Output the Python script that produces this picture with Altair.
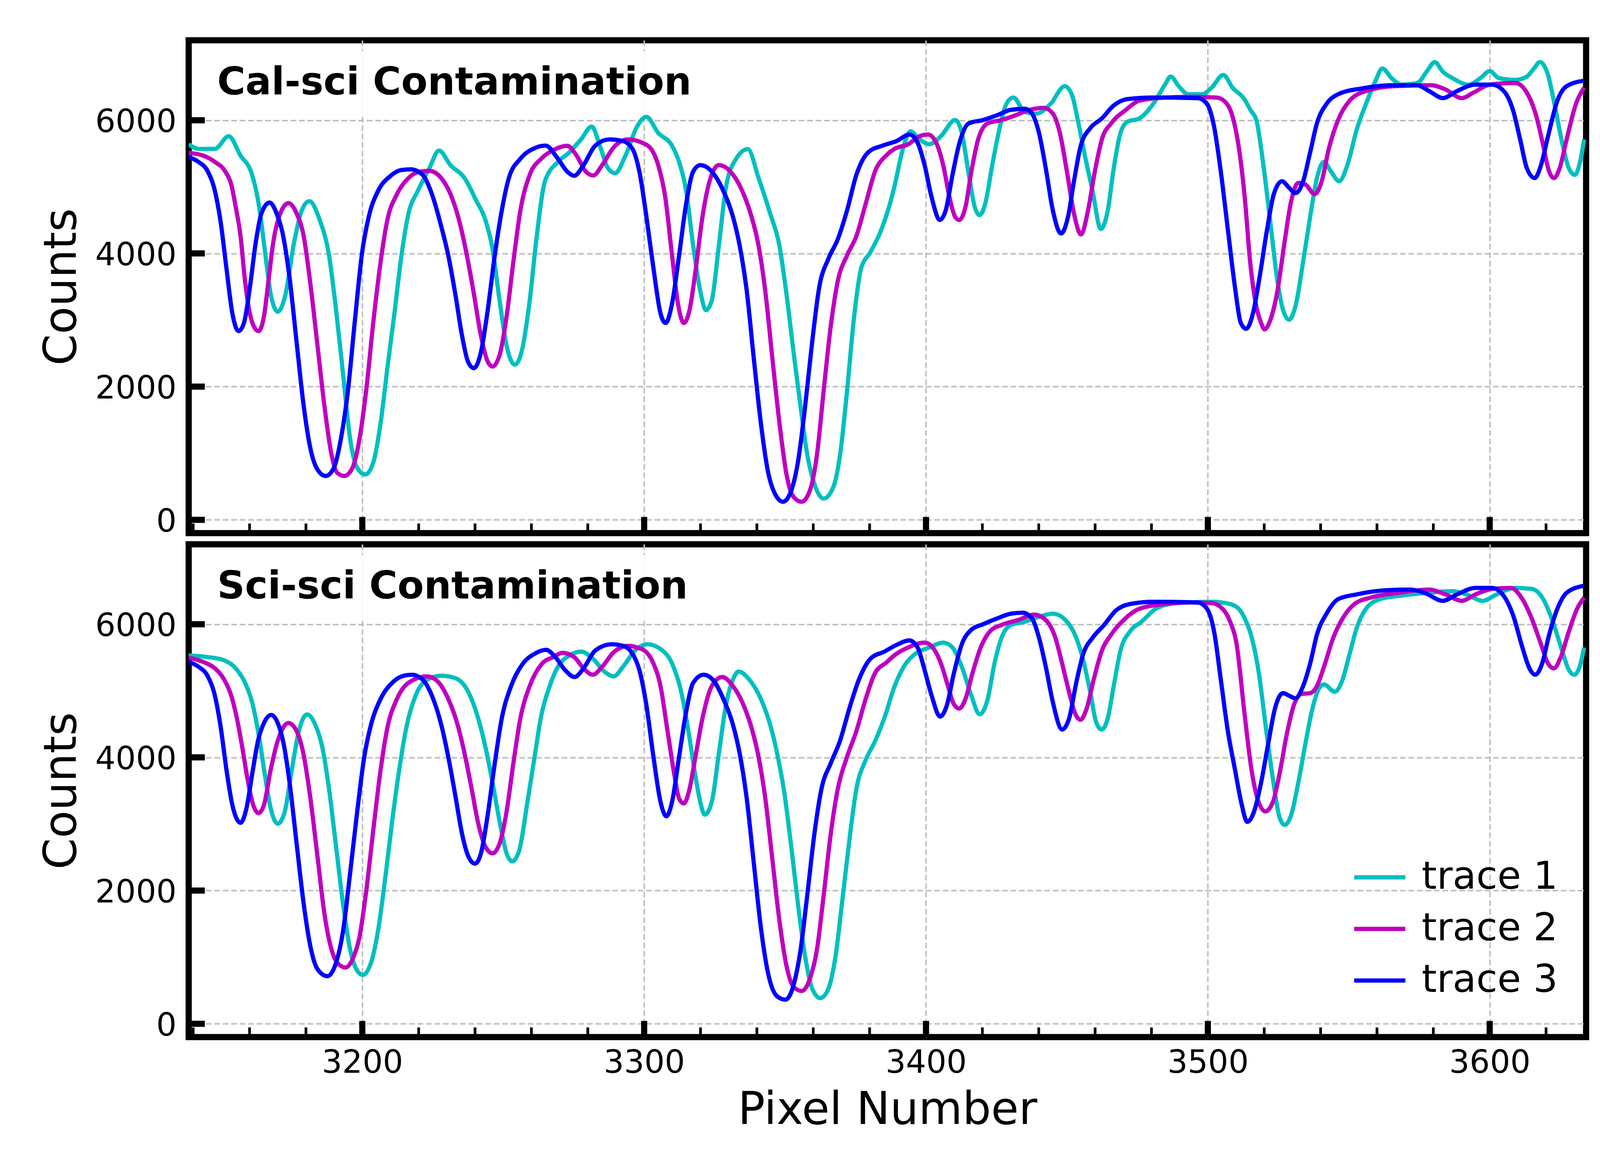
import altair as alt
import pandas as pd

# ---------------- data ----------------
TOP_T1_X = [3138.4,3141.9,3147.7,3152.6,3156.8,3160.9,3163.4,3165.5,3167.5,3170.0,3172.5,3175.8,3178.3,3181.2,3184.9,3188.2,3190.7,3193.2,3195.7,3198.2,3201.1,3204.0,3206.5,3208.9,3211.4,3213.9,3216.4,3219.7,3223.8,3227.2,3231.3,3236.3,3240.4,3243.7,3246.2,3248.7,3251.2,3254.1,3256.5,3259.4,3261.9,3264.8,3269.4,3273.5,3277.6,3281.4,3284.3,3287.2,3289.7,3293.4,3297.5,3300.8,3305.0,3309.9,3312.4,3314.9,3317.4,3319.9,3321.9,3324.0,3326.5,3329.0,3332.3,3336.8,3340.6,3344.7,3348.0,3350.5,3353.0,3355.5,3357.9,3360.4,3363.7,3367.1,3369.5,3372.0,3374.5,3377.0,3380.3,3383.6,3386.9,3388.7,3392.1,3394.5,3397.8,3401.2,3405.3,3410.3,3412.7,3415.2,3417.3,3419.0,3421.0,3423.5,3426.0,3428.5,3431.0,3435.1,3439.2,3444.2,3449.2,3451.7,3454.1,3456.6,3459.1,3462.0,3464.5,3466.6,3469.0,3471.5,3475.7,3480.6,3484.8,3486.8,3489.7,3493.0,3498.0,3501.3,3505.5,3508.8,3512.9,3515.2,3517.2,3519.7,3522.2,3524.7,3526.7,3528.8,3531.3,3533.8,3536.3,3538.7,3541.2,3543.7,3546.6,3549.5,3552.8,3556.1,3559.4,3561.9,3565.2,3568.5,3574.3,3577.6,3580.5,3583.4,3586.8,3592.5,3596.7,3600.0,3603.3,3609.1,3613.2,3615.7,3617.8,3620.7,3623.2,3625.7,3628.1,3630.2,3632.3,3633.5]
TOP_T1_Y = [5640,5570,5570,5760,5470,5180,4700,4020,3390,3125,3340,4165,4620,4785,4500,3970,3150,2180,1210,780,680,875,1455,2280,3100,3970,4600,4940,5280,5545,5325,5130,4795,4500,4070,3295,2615,2330,2520,3295,4260,5084,5374,5519,5712,5906,5616,5277,5205,5471,5906,6051,5809,5616,5374,4939,4116,3439,3149,3294,4116,4987,5398,5567,5132,4600,4116,3390,2520,1698,972,537,319,489,972,1940,3052,3778,4020,4300,4700,4987,5616,5833,5712,5640,5761,6003,5809,5180,4697,4576,4745,5326,5858,6245,6341,6124,6100,6245,6511,6390,5954,5422,4939,4368,4648,5277,5809,5978,6027,6245,6535,6656,6511,6390,6390,6487,6680,6487,6320,6148,6003,5326,4455,3584,3149,3004,3246,3874,4552,5132,5374,5229,5084,5326,5858,6245,6583,6777,6632,6535,6559,6728,6873,6728,6632,6535,6632,6738,6632,6607,6656,6777,6873,6680,6196,5664,5277,5180,5422,5712]

TOP_T2_X = [3138.4,3143.5,3147.7,3151.4,3153.5,3155.1,3156.8,3158.4,3160.1,3161.8,3163.2,3165.1,3166.7,3168.4,3170.9,3173.8,3176.7,3179.2,3181.6,3184.1,3186.6,3189.1,3191.1,3193.6,3196.5,3199.0,3201.5,3204.0,3206.5,3208.9,3212.3,3216.4,3220.5,3223.8,3228.0,3231.3,3234.6,3237.1,3239.6,3242.1,3244.5,3246.2,3248.7,3251.2,3253.6,3256.1,3259.4,3263.5,3268.5,3272.7,3276.0,3279.3,3282.0,3285.1,3289.2,3294.2,3299.2,3302.5,3305.0,3307.5,3309.9,3312.0,3314.1,3316.1,3318.2,3320.7,3323.2,3326.5,3330.6,3334.8,3338.1,3340.6,3343.1,3345.5,3348.0,3350.5,3353.0,3355.9,3358.8,3361.3,3363.7,3366.2,3368.7,3372.0,3375.3,3378.6,3381.9,3386.1,3388.7,3393.7,3397.8,3400.7,3403.6,3406.1,3408.6,3410.3,3411.8,3414.0,3416.1,3418.5,3421.9,3426.8,3431.8,3436.8,3441.8,3445.0,3447.5,3450.0,3452.5,3455.0,3457.5,3459.9,3462.4,3465.7,3470.7,3475.7,3484.8,3493.0,3503.0,3506.3,3508.8,3511.3,3513.2,3514.9,3516.8,3518.9,3520.1,3522.2,3524.7,3527.2,3529.6,3532.1,3534.6,3537.9,3540.4,3542.9,3546.2,3550.3,3556.1,3566.1,3579.3,3584.3,3590.1,3594.2,3600.0,3609.1,3614.1,3616.6,3619.0,3621.1,3622.8,3624.8,3627.3,3630.6,3633.5]
TOP_T2_Y = [5509,5470,5374,5229,5035,4697,4261,3584,3100,2883,2834,3052,3584,4165,4600,4755,4600,4261,3536,2617,1698,972,706,658,779,1214,1988,3004,3874,4503,4890,5132,5229,5239,5132,4890,4455,3971,3390,2762,2375,2302,2472,3052,3874,4648,5180,5422,5567,5616,5471,5229,5171,5326,5592,5712,5664,5567,5326,4842,3971,3246,2955,3149,3729,4552,5084,5326,5229,4939,4552,4116,3390,2423,1456,682,343,271,440,972,1940,2907,3584,3971,4261,4745,5229,5480,5567,5640,5761,5785,5664,5326,4793,4552,4503,4697,5229,5712,5954,6003,6075,6157,6186,6100,5809,5229,4600,4285,4648,5229,5712,5954,6148,6293,6341,6351,6341,6269,6051,5500,4790,3920,3294,2955,2859,3004,3439,4165,4793,5059,5035,4890,5084,5567,6003,6293,6438,6511,6525,6462,6332,6414,6535,6559,6341,6051,5616,5229,5132,5277,5712,6245,6487]

TOP_T3_X = [3138.4,3141.9,3145.2,3147.7,3149.8,3151.8,3153.9,3156.1,3158.0,3160.1,3162.2,3164.2,3167.1,3169.6,3171.7,3174.2,3176.7,3179.1,3181.6,3184.1,3187.0,3189.9,3192.4,3194.9,3197.4,3199.8,3202.3,3205.6,3209.8,3213.9,3217.2,3221.4,3224.7,3228.0,3230.5,3233.0,3235.4,3237.5,3239.6,3242.1,3244.5,3247.0,3249.5,3252.0,3256.1,3261.1,3265.0,3269.4,3272.7,3275.2,3278.5,3282.6,3287.6,3292.5,3295.9,3298.3,3300.8,3303.3,3305.8,3307.6,3309.9,3312.4,3314.9,3317.4,3319.9,3324.0,3328.1,3331.5,3333.9,3336.4,3338.9,3341.4,3343.9,3346.4,3349.3,3352.2,3354.6,3357.1,3359.6,3362.1,3365.4,3368.7,3372.0,3375.3,3379.5,3384.4,3389.6,3394.1,3397.0,3399.5,3402.0,3404.9,3407.0,3409.4,3411.9,3415.2,3420.2,3425.2,3430.1,3435.1,3437.6,3440.1,3442.5,3445.0,3447.9,3450.4,3452.5,3454.9,3458.3,3462.4,3466.6,3471.5,3480.6,3496.4,3499.7,3502.2,3504.6,3507.1,3509.6,3511.7,3513.6,3516.0,3518.5,3521.0,3523.4,3526.3,3528.8,3531.1,3533.8,3536.3,3538.7,3542.1,3546.2,3554.5,3566.1,3574.3,3578.5,3583.4,3588.4,3595.0,3600.8,3605.0,3608.3,3610.8,3613.2,3616.0,3618.2,3620.7,3624.0,3627.3,3633.5]
TOP_T3_Y = [5446,5374,5229,4939,4455,3778,3100,2834,2955,3487,4165,4600,4764,4600,4310,3632,2665,1746,1069,755,658,779,1214,1940,3004,3971,4552,4939,5156,5253,5263,5180,4890,4407,3971,3390,2762,2375,2278,2520,3149,3971,4648,5132,5422,5580,5620,5422,5229,5166,5326,5616,5712,5688,5567,5229,4552,3778,3100,2955,3246,3971,4745,5229,5326,5229,4939,4552,4116,3439,2423,1456,731,392,271,440,875,1698,2665,3487,3923,4213,4648,5180,5519,5616,5688,5785,5664,5326,4842,4503,4648,5180,5664,5954,6003,6075,6157,6172,6100,5809,5277,4648,4300,4552,5084,5616,5882,6027,6221,6317,6341,6332,6245,5906,5229,4358,3500,2955,2868,3100,3681,4358,4890,5084,4987,4905,5084,5519,5954,6245,6390,6477,6525,6525,6438,6332,6438,6535,6535,6438,6148,5712,5277,5132,5326,5761,6293,6511,6594]

BOT_T1_X = [3138.4,3145.2,3151.0,3155.1,3158.4,3160.9,3163.4,3165.5,3167.5,3170.0,3172.5,3175.0,3177.5,3180.4,3183.3,3185.8,3188.2,3190.7,3193.2,3195.7,3198.2,3200.2,3203.1,3205.6,3208.1,3210.6,3213.1,3215.6,3218.9,3223.0,3228.0,3232.9,3237.1,3240.4,3243.7,3246.2,3248.7,3251.2,3253.2,3255.7,3258.6,3261.1,3263.6,3266.1,3269.4,3273.5,3277.6,3281.8,3285.9,3289.2,3292.5,3296.7,3301.2,3305.8,3309.9,3313.2,3315.7,3318.2,3319.9,3321.5,3324.0,3326.5,3329.0,3331.5,3333.5,3337.3,3341.4,3344.7,3347.2,3349.7,3352.2,3354.6,3357.1,3359.6,3362.5,3365.4,3367.9,3370.4,3372.8,3375.3,3378.6,3382.0,3385.3,3388.7,3392.1,3396.2,3401.2,3406.1,3409.4,3412.7,3416.1,3419.0,3421.9,3424.3,3426.8,3430.1,3435.1,3440.1,3445.0,3450.0,3453.3,3455.8,3458.3,3460.3,3462.3,3464.5,3466.6,3469.0,3472.4,3476.5,3481.5,3486.4,3493.0,3501.3,3507.9,3511.0,3513.1,3515.6,3518.1,3520.6,3523.1,3525.5,3527.3,3529.6,3532.1,3534.6,3537.1,3539.6,3541.2,3545.0,3547.8,3550.3,3552.8,3556.1,3561.1,3569.4,3578.5,3586.8,3591.7,3597.5,3602.5,3609.1,3614.9,3619.0,3622.4,3625.7,3628.1,3630.0,3631.9,3633.5]
BOT_T1_Y = [5530,5506,5458,5337,5120,4830,4299,3719,3236,3004,3188,3816,4395,4646,4492,4154,3526,2657,1787,1111,797,734,918,1401,2174,3043,3816,4444,4927,5168,5226,5192,5023,4685,4154,3623,3043,2560,2439,2608,3333,4000,4650,5023,5361,5530,5588,5482,5289,5216,5361,5603,5699,5627,5410,4975,4395,3719,3333,3140,3333,4057,4782,5168,5289,5168,4878,4492,4057,3478,2657,1787,1014,531,386,531,1014,1884,2753,3526,3961,4250,4600,5050,5361,5555,5651,5724,5651,5361,4927,4646,4878,5410,5796,5989,6038,6110,6158,6038,5796,5458,4975,4540,4419,4589,5072,5603,5893,6038,6231,6303,6327,6337,6303,6230,6086,5796,5265,4444,3671,3091,2985,3140,3623,4202,4733,5047,5096,4985,5168,5555,5941,6231,6376,6434,6472,6496,6448,6351,6448,6545,6530,6376,6038,5603,5313,5241,5361,5651]

BOT_T2_X = [3138.4,3143.5,3147.7,3151.0,3153.5,3155.5,3157.6,3159.3,3161.3,3163.2,3165.1,3167.5,3170.0,3173.8,3176.7,3179.1,3181.6,3184.1,3186.6,3189.1,3191.6,3194.0,3196.5,3199.0,3201.5,3204.0,3206.5,3208.9,3212.3,3216.4,3223.0,3227.2,3230.5,3233.8,3236.3,3238.8,3241.2,3243.7,3246.2,3248.7,3251.2,3253.6,3256.1,3259.4,3263.6,3267.7,3271.0,3275.2,3278.5,3281.8,3285.1,3289.2,3294.2,3297.5,3300.8,3303.3,3305.8,3308.3,3310.8,3312.4,3314.1,3316.1,3318.2,3320.7,3324.0,3327.7,3331.5,3334.8,3338.1,3340.6,3343.0,3345.5,3348.0,3350.5,3353.0,3355.9,3358.8,3361.3,3363.7,3366.2,3368.7,3372.0,3375.3,3378.6,3381.9,3386.1,3388.7,3393.7,3399.5,3402.8,3405.3,3407.8,3409.8,3411.8,3414.0,3416.5,3419.4,3422.7,3426.8,3432.6,3438.4,3442.5,3445.9,3448.3,3450.8,3452.9,3454.8,3457.0,3459.5,3462.4,3465.7,3470.7,3475.7,3484.8,3493.0,3501.3,3504.6,3507.9,3510.2,3512.9,3515.4,3517.6,3520.4,3523.1,3525.5,3528.0,3530.5,3533.0,3536.3,3538.7,3541.2,3544.5,3547.8,3552.0,3557.8,3567.7,3578.5,3584.3,3590.1,3595.0,3600.8,3607.5,3611.6,3614.9,3618.2,3620.7,3622.8,3625.2,3628.1,3631.0,3633.5]
BOT_T2_Y = [5497,5434,5337,5168,4927,4589,4105,3671,3284,3164,3284,3816,4250,4516,4395,4057,3381,2512,1642,1111,894,845,966,1304,2029,2946,3816,4444,4878,5120,5216,5120,4878,4492,4057,3526,2995,2657,2560,2705,3188,3912,4589,5072,5400,5506,5569,5506,5337,5241,5361,5579,5675,5651,5579,5410,5072,4395,3719,3381,3309,3526,4009,4589,5072,5207,5072,4830,4444,4009,3381,2463,1546,869,555,493,676,1111,1932,2850,3526,4009,4395,4878,5265,5430,5530,5651,5724,5627,5410,5072,4806,4733,4878,5265,5651,5893,5989,6062,6144,6062,5796,5410,4975,4661,4564,4733,5168,5603,5844,6086,6231,6303,6327,6318,6255,6038,5700,4700,3840,3381,3188,3333,3767,4347,4782,4951,4965,5072,5361,5796,6086,6303,6400,6472,6520,6448,6351,6448,6530,6545,6376,6086,5699,5410,5337,5506,5893,6231,6400]

BOT_T3_X = [3138.4,3141.9,3145.2,3147.7,3149.8,3151.8,3153.9,3156.8,3158.9,3161.0,3163.0,3165.1,3167.7,3170.0,3172.1,3174.2,3176.7,3179.1,3181.6,3184.1,3187.6,3190.7,3193.2,3195.7,3198.2,3200.7,3203.1,3206.5,3210.6,3214.7,3217.6,3221.4,3224.7,3228.0,3230.5,3233.0,3235.4,3237.9,3240.0,3242.1,3244.5,3247.0,3249.5,3252.8,3257.0,3261.1,3265.2,3268.5,3271.9,3275.3,3278.5,3282.6,3288.4,3292.5,3295.9,3298.3,3300.8,3303.3,3305.8,3307.9,3309.9,3312.4,3314.9,3317.4,3321.1,3324.8,3328.1,3331.5,3333.9,3336.4,3338.9,3341.4,3343.9,3347.2,3350.1,3353.0,3355.5,3358.0,3360.4,3362.9,3366.2,3369.5,3372.8,3376.2,3380.3,3385.3,3389.6,3394.1,3397.0,3399.5,3402.0,3405.0,3407.4,3409.9,3412.7,3416.1,3420.2,3425.2,3430.1,3434.3,3437.6,3440.1,3442.5,3445.0,3448.3,3450.8,3453.3,3455.8,3459.1,3463.2,3467.4,3472.4,3480.6,3496.4,3499.7,3502.2,3504.6,3507.1,3509.7,3511.8,3514.0,3516.4,3518.9,3521.4,3523.8,3526.7,3528.8,3531.1,3533.8,3536.3,3538.7,3542.1,3546.2,3552.8,3563.6,3571.9,3576.8,3583.4,3588.4,3595.0,3600.8,3605.0,3608.3,3611.6,3614.1,3616.1,3618.6,3621.1,3624.0,3627.3,3633.5]
BOT_T3_Y = [5434,5361,5216,4927,4444,3816,3284,3019,3236,3767,4250,4516,4637,4516,4202,3623,2705,1835,1159,821,715,918,1401,2270,3188,4009,4492,4878,5120,5226,5241,5168,4927,4492,4009,3429,2850,2487,2405,2560,3140,3912,4589,5072,5410,5555,5615,5506,5313,5207,5337,5603,5699,5675,5555,5313,4782,4009,3333,3115,3333,4009,4685,5120,5241,5144,4878,4492,4057,3381,2415,1449,773,411,362,580,1111,1980,2850,3526,3912,4250,4733,5168,5482,5590,5690,5757,5651,5313,4927,4613,4782,5265,5699,5917,5999,6086,6158,6173,6086,5796,5361,4830,4419,4589,5120,5555,5796,5989,6207,6303,6337,6327,6231,5893,5168,4395,3800,3333,3033,3188,3623,4202,4733,4965,4927,4888,5072,5410,5844,6158,6376,6448,6511,6520,6472,6351,6448,6545,6545,6424,6134,5651,5337,5241,5410,5844,6231,6472,6578]

TRACE_NAMES = ["trace 1", "trace 2", "trace 3"]
TRACE_COLORS = ["#00BFBF", "#BF00BF", "#0000FF"]
PANEL_TITLES = ["Cal-sci Contamination", "Sci-sci Contamination"]
X_MAJOR = [3200, 3300, 3400, 3500, 3600]
X_MINOR = [3140, 3160, 3180, 3220, 3240, 3260, 3280, 3320, 3340, 3360, 3380,
           3420, 3440, 3460, 3480, 3520, 3540, 3560, 3580, 3620]
Y_TICKS = [0, 2000, 4000, 6000]
X_DOMAIN = [3138.4, 3634.2]
Y_DOMAIN = [-200, 7200]

# ---------------- layout / style ----------------
W, H = 3630, 1280
FONT = "DejaVu Sans"
TITLE_BOX_RIGHT = [1323, 1314]   # right edge (px) of the translucent box behind each panel title


def to_frame(xs, ys):
    rows = []
    for name, xl, yl in zip(TRACE_NAMES, xs, ys):
        for i, (a, b) in enumerate(zip(xl, yl)):
            rows.append({"x": a, "y": b, "trace": name, "i": i})
    return pd.DataFrame(rows)


def panel(df, title, box_right, bottom):
    xscale = alt.Scale(domain=X_DOMAIN, nice=False, zero=False)
    yscale = alt.Scale(domain=Y_DOMAIN, nice=False, zero=False)
    xaxis_kw = dict(values=X_MAJOR, grid=True, ticks=False, tickSize=0, domain=False,
                    labels=bottom, format="d", labelPadding=26, titlePadding=24,
                    labelFontSize=83, titleFontSize=117, titleFontWeight="normal",
                    labelLimit=0)
    xaxis = alt.Axis(title="Pixel Number", **xaxis_kw) if bottom else alt.Axis(title=None, **xaxis_kw)
    yaxis = alt.Axis(values=Y_TICKS, grid=True, ticks=False, tickSize=0, domain=False,
                     format="d", labelPadding=32, titlePadding=69, labelFontSize=83,
                     labelOffset=5, labelLimit=0,
                     titleFontSize=117, titleFontWeight="normal", title="Counts")

    cscale = alt.Scale(domain=TRACE_NAMES, range=TRACE_COLORS)
    if bottom:
        legend = alt.Legend(title=None, orient="none", legendX=3022, legendY=793,
                            symbolType="stroke", symbolSize=17689, symbolStrokeWidth=11,
                            labelFontSize=100, labelFont=FONT, labelColor="black",
                            labelOffset=37, rowPadding=12, padding=0, labelLimit=0)
        color = alt.Color("trace:N", scale=cscale, legend=legend)
    else:
        color = alt.Color("trace:N", scale=cscale, legend=None)

    lines = alt.Chart(df).mark_line(strokeWidth=11, interpolate="monotone", clip=True).encode(
        x=alt.X("x:Q", scale=xscale, axis=xaxis),
        y=alt.Y("y:Q", scale=yscale, axis=yaxis),
        color=color,
        order="i:Q",
    )

    major = alt.Chart(pd.DataFrame({"x": X_MAJOR})).mark_rule(color="black", strokeWidth=16).encode(
        x=alt.X("x:Q", scale=xscale, axis=xaxis), y=alt.value(H), y2=alt.value(H - 42))
    minor = alt.Chart(pd.DataFrame({"x": X_MINOR})).mark_rule(color="black", strokeWidth=7).encode(
        x=alt.X("x:Q", scale=xscale, axis=xaxis), y=alt.value(H), y2=alt.value(H - 25))
    yt = alt.Chart(pd.DataFrame({"y": Y_TICKS})).mark_rule(color="black", strokeWidth=16).encode(
        y=alt.Y("y:Q", scale=yscale, axis=yaxis), x=alt.value(0), x2=alt.value(42))

    box = alt.Chart(pd.DataFrame({"label": [title]})).mark_rect(
        fill="white", opacity=0.85).encode(
        x=alt.value(49), x2=alt.value(box_right), y=alt.value(28), y2=alt.value(192))

    label = alt.Chart(pd.DataFrame({"label": [title]})).mark_text(
        align="left", baseline="alphabetic", fontSize=100, fontWeight="bold",
        font=FONT, color="black").encode(x=alt.value(74), y=alt.value(141), text="label:N")

    return alt.layer(lines, major, minor, yt, box, label).properties(width=W, height=H)


top = panel(to_frame([TOP_T1_X, TOP_T2_X, TOP_T3_X], [TOP_T1_Y, TOP_T2_Y, TOP_T3_Y]),
            PANEL_TITLES[0], TITLE_BOX_RIGHT[0], bottom=False)
bot = panel(to_frame([BOT_T1_X, BOT_T2_X, BOT_T3_X], [BOT_T1_Y, BOT_T2_Y, BOT_T3_Y]),
            PANEL_TITLES[1], TITLE_BOX_RIGHT[1], bottom=True)

chart = alt.vconcat(top, bot, spacing=0).resolve_legend(color="independent").properties(
    padding={"left": 86, "top": 67, "right": 20, "bottom": 20},
    background="white",
).configure_view(
    stroke="black", strokeWidth=16
).configure_axis(
    labelFont=FONT, titleFont=FONT, labelColor="black", titleColor="black",
    gridColor="#bfbfbf", gridDash=[15, 7], gridWidth=4, gridOpacity=1,
).configure_concat(spacing=0)

chart.save("out.html", embed_options={"renderer": "svg", "actions": False})
